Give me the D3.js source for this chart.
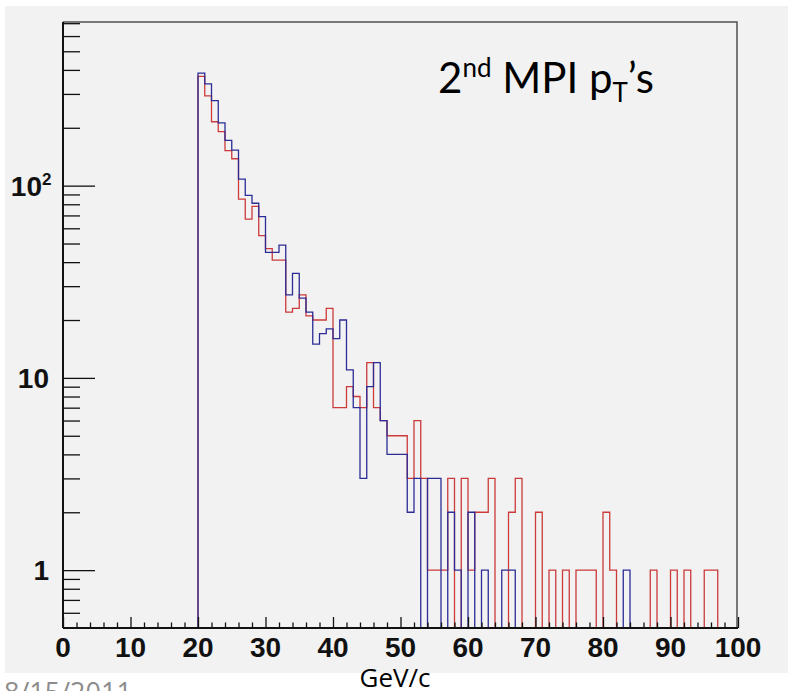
<!DOCTYPE html>
<html>
<head>
<meta charset="utf-8">
<script src="https://cdn.jsdelivr.net/npm/d3@7"></script>
<style>
  body { margin: 0; background: #fff; }
  svg { display: block; }
</style>
</head>
<body>
<div id="chart-area"></div>
<script>

// histogram contents, 1 GeV bins starting at 20 GeV/c
var firstBin = 20;
var redCounts = [
    370, 293, 215, 191, 152, 138, 85, 67, 78, 55,
    47, 41, 41, 22, 23, 27, 21, 20, 20, 23,
    7, 7, 9, 8, 7, 12, 7, 6, 5, 5,
    5, 3, 6, 3, 1, 1, 1, 3, 0, 3,
    1, 2, 2, 3, 0, 0, 2, 3, 0, 0,
    2, 0, 1, 0, 1, 0, 1, 1, 1, 0,
    2, 1, 0, 0, 0, 0, 0, 1, 0, 0,
    1, 0, 1, 0, 0, 1, 1, 0, 0, 0
];
var blueCounts = [
    385, 338, 277, 212, 172, 153, 108, 89, 81, 69,
    45, 45, 49, 27, 35, 26, 22, 15, 17, 18,
    16, 20, 11, 7, 3, 9, 12, 6, 4, 4,
    4, 2, 3, 0, 3, 3, 0, 2, 1, 0,
    2, 0, 1, 0, 0, 1, 1, 0, 0, 0,
    0, 0, 0, 0, 0, 0, 0, 0, 0, 0,
    0, 0, 0, 1, 0, 0, 0, 0, 0, 0,
    0, 0, 0, 0, 0, 0, 0, 0, 0, 0
];

var xMajor = [0, 10, 20, 30, 40, 50, 60, 70, 80, 90, 100];
var yMajor = [1, 10, 100];
var yLabels = ["1", "10", "10"];
var ySup = ["", "", "2"];
var yMinor = [0.6, 0.7, 0.8, 0.9, 2, 3, 4, 5, 6, 7, 8, 9,
    20, 30, 40, 50, 60, 70, 80, 90, 200, 300, 400, 500, 600, 700];

var W = 788, H = 691;
var frame = { left: 63, right: 738, top: 22, bottom: 628 };
var yMin = 0.5, yMax = 710;

var svg = d3.select("#chart-area")
    .append("svg")
    .attr("width", W)
    .attr("height", H);

// pad background
svg.append("rect")
    .attr("x", 5)
    .attr("y", 6)
    .attr("width", W - 5)
    .attr("height", 667)
    .attr("fill", "#f2f2f2");

var x = d3.scaleLinear().domain([0, 100]).range([frame.left, frame.right]);
var y = d3.scaleLog().domain([yMin, yMax]).range([frame.bottom, frame.top]);

// frame top + right
svg.append("path")
    .attr("d", "M" + frame.left + "," + frame.top + "H" + (frame.right - 1) + "V" + frame.bottom)
    .attr("fill", "none")
    .attr("stroke", "#505050")
    .attr("stroke-width", 1.5);

function histPoints(counts) {
    var pts = [];
    for (var i = 0; i < 100; i++) {
        var v = i < firstBin ? 0 : counts[i - firstBin];
        pts.push({ x: i, v: v });
    }
    pts.push({ x: 100, v: pts[pts.length - 1].v });
    return pts;
}

var line = d3.line()
    .x(function(d) { return x(d.x); })
    .y(function(d) { return y(Math.max(d.v, yMin)); })
    .curve(d3.curveStepAfter);

svg.append("path")
    .datum(histPoints(redCounts))
    .attr("d", line)
    .attr("fill", "none")
    .attr("stroke", "#cc3a3a")
    .attr("stroke-width", 1.3);

svg.append("path")
    .datum(histPoints(blueCounts))
    .attr("d", line)
    .attr("fill", "none")
    .attr("stroke", "#2c2c96")
    .attr("stroke-width", 1.3);

// x axis, ticks pointing up into the frame
var xAxis = svg.append("g").attr("transform", "translate(0," + frame.bottom + ")");
xAxis.call(d3.axisTop(x).tickValues(d3.range(0, 101, 2)).tickSize(5.5).tickFormat(""));
xAxis.call(function(g) {
    g.selectAll(".tick line").attr("stroke", "#111").attr("stroke-width", 1.3);
    g.selectAll(".tick").filter(function(d) { return d % 10 === 0; })
        .select("line").attr("y2", -11);
    g.select(".domain").remove();
});
svg.selectAll(".xlab")
    .data(xMajor)
    .enter().append("text")
    .attr("class", "xlab")
    .attr("x", function(d) { return x(d); })
    .attr("y", 657)
    .attr("text-anchor", "middle")
    .style("font-family", "'Liberation Sans', Arial, sans-serif")
    .style("font-weight", "bold")
    .style("font-size", "28px")
    .attr("fill", "#111")
    .text(function(d) { return d; });

// y axis, log, ticks pointing right
var yAxis = svg.append("g").attr("transform", "translate(" + frame.left + ",0)");
yAxis.call(d3.axisRight(y).tickValues(yMinor.concat(yMajor)).tickSize(17).tickFormat(""));
yAxis.call(function(g) {
    g.selectAll(".tick line").attr("stroke", "#111").attr("stroke-width", 1.3);
    g.selectAll(".tick").filter(function(d) { return yMajor.indexOf(d) >= 0; })
        .select("line").attr("x2", 32);
    g.select(".domain").remove();
});

svg.selectAll(".ylab")
    .data(yMajor)
    .enter().append("text")
    .attr("class", "ylab")
    .attr("x", function(d, i) { return ySup[i] ? 42 : 49; })
    .attr("y", function(d) { return y(d) + 10; })
    .attr("text-anchor", "end")
    .style("font-family", "'Liberation Sans', Arial, sans-serif")
    .style("font-weight", "bold")
    .style("font-size", "28px")
    .attr("fill", "#111")
    .text(function(d, i) { return yLabels[i]; });

svg.selectAll(".ysup")
    .data(yMajor.filter(function(d, i) { return ySup[i]; }))
    .enter().append("text")
    .attr("class", "ysup")
    .attr("x", 42)
    .attr("y", function(d) { return y(d) - 1; })
    .style("font-family", "'Liberation Sans', Arial, sans-serif")
    .style("font-weight", "bold")
    .style("font-size", "17px")
    .attr("fill", "#111")
    .text(ySup[2]);

// axis lines
svg.append("line")
    .attr("x1", frame.left).attr("x2", frame.left)
    .attr("y1", frame.top).attr("y2", frame.bottom)
    .attr("stroke", "#111").attr("stroke-width", 2);
svg.append("line")
    .attr("x1", frame.left).attr("x2", frame.right)
    .attr("y1", frame.bottom).attr("y2", frame.bottom)
    .attr("stroke", "#111").attr("stroke-width", 2);

// title
var title = svg.append("text")
    .attr("x", 438)
    .attr("y", 93)
    .style("font-family", "Lato, 'Open Sans', sans-serif")
    .style("font-size", "42px")
    .attr("fill", "#000");
title.append("tspan").text("2");
title.append("tspan").attr("dy", -16).style("font-size", "26px").text("nd");
title.append("tspan").attr("dy", 16).text(" MPI p");
title.append("tspan").attr("dy", 9).style("font-size", "26px").text("T");
title.append("tspan").attr("dy", -9).text("\u2019s");

svg.append("text")
    .attr("x", 395)
    .attr("y", 687)
    .attr("text-anchor", "middle")
    .style("font-family", "'Open Sans', sans-serif")
    .style("font-size", "26px")
    .attr("fill", "#000")
    .text("GeV/c");

// date footer, partly below the bottom edge as in the slide
svg.append("text")
    .attr("x", 4)
    .attr("y", 702)
    .style("font-family", "'Open Sans', sans-serif")
    .style("font-size", "27px")
    .attr("fill", "#8c8c8c")
    .text("8/15/2011");

</script>
</body>
</html>
